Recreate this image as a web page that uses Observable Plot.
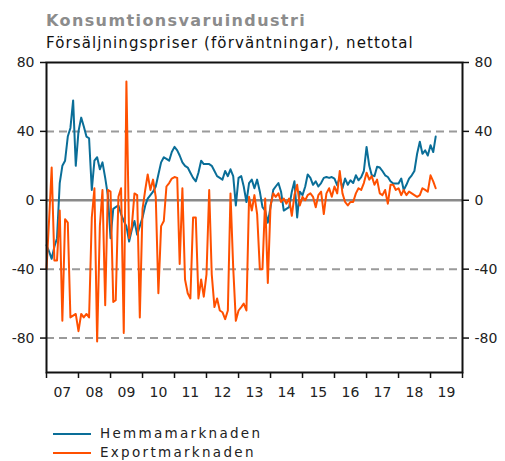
<!DOCTYPE html>
<html><head><meta charset="utf-8">
<script src="https://cdn.jsdelivr.net/npm/d3@7"></script>
<script src="https://cdn.jsdelivr.net/npm/@observablehq/plot@0.6"></script>
<style>
body{margin:0;background:#fff;font-family:"DejaVu Sans",Verdana,sans-serif;}
#wrap{position:relative;width:505px;height:461px;overflow:hidden;}
.title{position:absolute;left:46px;top:12.5px;font-weight:bold;font-size:16px;line-height:16px;letter-spacing:1.4px;color:#8c8c8c;white-space:nowrap;}
.sub{position:absolute;left:46px;top:36.3px;font-size:15px;line-height:15px;letter-spacing:1.1px;color:#111;white-space:nowrap;}
#chart{position:absolute;left:0;top:52px;}
.leg{position:absolute;left:0;width:505px;height:14px;}
.leg .sw{position:absolute;left:53px;width:38px;height:2px;top:6px;}
.leg .tx{position:absolute;left:100px;top:0;font-size:13.5px;line-height:13.5px;letter-spacing:2.3px;color:#222;white-space:nowrap;}
</style></head>
<body>
<div id="wrap">
  <div class="title">Konsumtionsvaruindustri</div>
  <div class="sub">Försäljningspriser (förväntningar), nettotal</div>
  <div id="chart"></div>
  <div class="leg" style="top:426.5px"><div class="sw" style="background:#0a6e98"></div><div class="tx">Hemmamarknaden</div></div>
  <div class="leg" style="top:445.5px"><div class="sw" style="background:#ff5000"></div><div class="tx">Exportmarknaden</div></div>
</div>
<script>
const seriesNames = ["Hemmamarknaden", "Exportmarknaden"];
const seriesColors = ["#0a6e98", "#ff5000"];
const startYear = 2007;
// monthly values from Jan 2007
const hemma = [
  -26,-30,-34,-27,-22,10,20,23,37,42,58,20,
  40,48,43,37,36,6,23,25,18,22,13,3,
  -22,-5,-4,-3,-8,-12,-15,-24,-17,-12,-20,-15,
  -10,-3,1,3,5,8,15,22,25,24,23,28,
  31,29,26,22,20,19,16,13,11,16,23,21,
  21,21,20,17,14,13,12,17,14,18,14,-3,
  13,14,8,-1,10,12,7,12,5,-4,-6,-13,
  -4,6,8,10,5,-6,-5,-4,5,11,-10,5,
  3,8,15,13,9,11,8,10,13,13.5,13,13.5,
  12.6,8.7,13.5,7,12.6,9,11.6,10,14.5,11.6,13.5,17,
  31,20,14.5,14,19.5,19,17,14.5,13.5,11,9.7,9.7,
  9.7,12.6,6,9,12.6,14.5,17,27,34,27,29,26,
  32,28,37
];
const export_ = [
  -40,-10,19,-35,-35,-6,-70,-11,-13,-68,-67,-66,
  -76,-66,-68,-66,-68,-10,7,-82,-15,6,-61,6,
  5,-59,-58,2,7,-77,69,-22,-15,4,3,-68,
  -5,6,15,6,12,2,-54,-15,-12,8,10,12.6,
  13.5,13,-37,7,-46,-54,-57,-10,-10,-57,-46,-56,
  -43,6,-43,-62,-57,-64,-65,-69,-64,4,-39,-70,
  -64,-62,-60,-64,2,-6,3,-8,-40,-40,1,-48,
  -3,4,2,4,-1,1,-2,1,-9,3,9,-3,
  2,0,3,4,2,-4,3,5,-8,4,7,2,
  8,4,17,4,-1,-3,-1,-1,4,7,6,10,
  16,12,14,9,12,4,3,6,-2,9,9,6,
  7,3,6,3,5,4,3,2,3,7,6,5,
  14.5,11,7
];
const yTicks = [-80, -40, 0, 40, 80];
const gridDashed = [-80, -40, 40];
const yearLabels = ["07","08","09","10","11","12","13","14","15","16","17","18","19"];

const toRows = (vals) => vals.map((v, i) => ({date: new Date(Date.UTC(startYear, i, 1)), value: v}));
const hemmaRows = toRows(hemma);
const exportRows = toRows(export_);
const yearStarts = d3.range(startYear, startYear + yearLabels.length + 1).map(y => new Date(Date.UTC(y, 0, 1)));
const midYears = yearLabels.map((l, i) => new Date(Date.UTC(startYear + i, 6, 1)));
const labelMap = new Map(midYears.map((d, i) => [+d, yearLabels[i]]));

const chart = Plot.plot({
  width: 505, height: 352,
  marginTop: 10, marginBottom: 32, marginLeft: 46, marginRight: 43,
  style: {fontFamily: "DejaVu Sans, Verdana, sans-serif", fontSize: "14px", background: "white", color: "#222"},
  x: {type: "utc", domain: [yearStarts[0], yearStarts[yearStarts.length - 1]]},
  y: {domain: [-100, 80]},
  marks: [
    Plot.ruleY(gridDashed, {stroke: "#9a9a9a", strokeWidth: 2, strokeDasharray: "8,5"}),
    Plot.ruleY([0], {stroke: "#8a8a8a", strokeWidth: 2.5}),
    Plot.line(hemmaRows, {x: "date", y: "value", stroke: seriesColors[0], strokeWidth: 2}),
    Plot.line(exportRows, {x: "date", y: "value", stroke: seriesColors[1], strokeWidth: 2}),
    Plot.axisY({anchor: "left", ticks: yTicks, tickSize: 6, tickPadding: 6, tickFormat: d => String(d), label: null, fontSize: 14, strokeWidth: 1.5, stroke: "#111"}),
    Plot.axisY({anchor: "right", ticks: yTicks, tickSize: 6, tickPadding: 6, tickFormat: d => String(d), label: null, fontSize: 14, strokeWidth: 1.5, stroke: "#111"}),
    Plot.axisX({ticks: yearStarts, tickSize: 6, tickFormat: () => "", label: null, strokeWidth: 1.5, stroke: "#111"}),
    Plot.axisX({ticks: midYears, tickSize: 0, tickPadding: 15, tickFormat: d => labelMap.get(+d), label: null, fontSize: 14}),
    Plot.frame({stroke: "#111", strokeWidth: 2})
  ]
});
document.getElementById("chart").appendChild(chart);
</script>
</body></html>
